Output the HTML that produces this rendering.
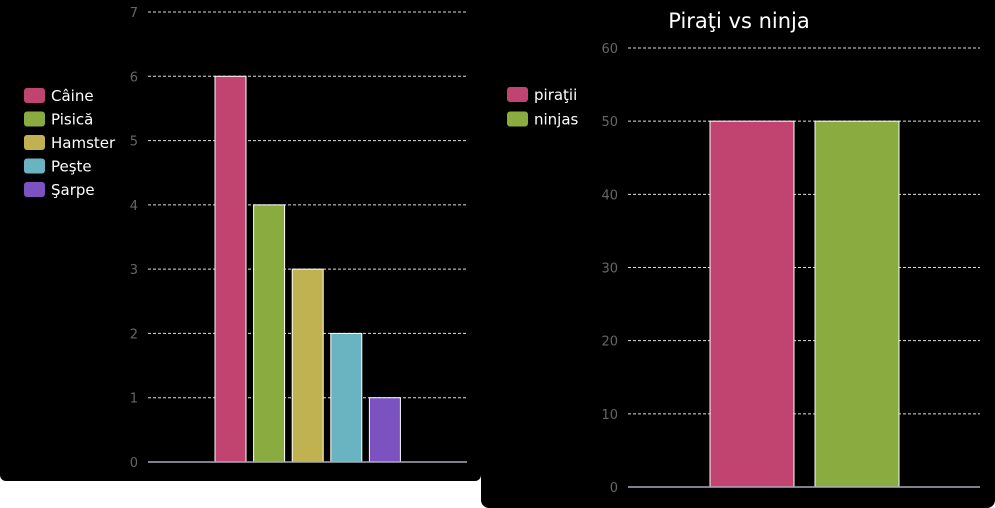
<!DOCTYPE html>
<html><head><meta charset="utf-8"><style>
html,body{margin:0;padding:0;background:#fff;width:995px;height:508px;overflow:hidden}
svg{display:block;font-family:"DejaVu Sans","Liberation Sans",sans-serif}
</style></head><body>
<svg id="s" width="995" height="508">
<rect x="0" y="-10" width="481" height="491" rx="6" fill="#000"/>
<rect x="481" y="-10" width="514" height="518" rx="8" fill="#000"/>
<text x="739" y="28" fill="#fff" font-size="21" text-anchor="middle">Piraţi vs ninja</text>
</svg>
<script>
const petCats=["Câine","Pisică","Hamster","Peşte","Şarpe"];
const petVals=[6,4,3,2,1];
const petTicks=[0,1,2,3,4,5,6,7];
const pvnCats=["piraţii","ninjas"];
const pvnVals=[50,50];
const pvnTicks=[0,10,20,30,40,50,60];
const colors=["#c0446f","#8aab3f","#c0b251","#6ab4c2","#7b52c0"];
const NS="http://www.w3.org/2000/svg",s=document.getElementById("s");
function mk(t,a,txt){const e=document.createElementNS(NS,t);for(const k in a)e.setAttribute(k,a[k]);if(txt!=null)e.textContent=txt;s.appendChild(e);return e;}
function chart(o){
 const y=v=>o.y0-(v-o.min)/(o.max-o.min)*(o.y0-o.y1);
 o.ticks.forEach(t=>{
  if(t!==o.min){const g=mk("line",{x1:o.xa,x2:o.xb,y1:y(t),y2:y(t),stroke:"#ddd","stroke-dasharray":"3,2","stroke-width":1});
  
  }
  const l=mk("text",{x:o.xa-10,y:y(t)+5,fill:"#666","font-size":13,"text-anchor":"end"},t);
  
  
 });
 o.vals.forEach((v,i)=>{
  const x=o.bx+i*o.step;
  const b=mk("rect",{x:x,y:y(v),width:o.bw,height:y(o.min)-y(v),fill:colors[i],stroke:"#fff","stroke-width":1});
  
  
 });
 const ax=mk("line",{x1:o.xa,x2:o.xb,y1:y(o.min),y2:y(o.min),stroke:"#aab","stroke-width":1.5});
 
 
 o.cats.forEach((c,i)=>{
  const ly=o.ly+i*o.lstep;
  const r=mk("rect",{x:o.lx,y:ly-8,width:21,height:15,rx:3,fill:colors[i]});
  
  
  const t=mk("text",{x:o.lx+27,y:ly+5,fill:"#fff","font-size":15},c);
  
  
 });
}
chart({vals:petVals,cats:petCats,ticks:petTicks,min:0,max:7,y0:462,y1:12,xa:148,xb:467,bx:215,step:38.6,bw:31,lx:24,ly:96,lstep:23.5});
chart({vals:pvnVals,cats:pvnCats,ticks:pvnTicks,min:0,max:60,y0:487,y1:48,xa:628,xb:980,bx:710,step:105,bw:84,lx:507,ly:95,lstep:24.5});
</script>
</body></html>
